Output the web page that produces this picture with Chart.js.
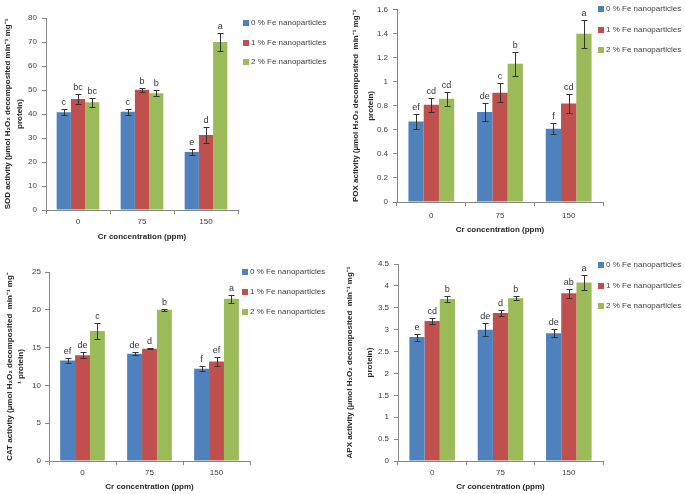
<!DOCTYPE html>
<html>
<head>
<meta charset="utf-8">
<script src="https://cdn.jsdelivr.net/npm/chart.js@4.4.0/dist/chart.umd.min.js"></script>
<style>
  html, body { margin: 0; padding: 0; background: #fff; }
  #wrap { position: relative; width: 685px; height: 494px; overflow: hidden; }
  canvas { position: absolute; }
</style>
</head>
<body>
<div id="wrap">
  <canvas id="sodChart" width="340" height="245" style="left:0;top:0"></canvas>
  <canvas id="poxChart" width="345" height="245" style="left:340px;top:0"></canvas>
  <canvas id="catChart" width="340" height="249" style="left:0;top:245px"></canvas>
  <canvas id="apxChart" width="345" height="249" style="left:340px;top:245px"></canvas>
</div>
<script>
const categories = ["0", "75", "150"];
const seriesNames = ["0 % Fe nanoparticles", "1 % Fe nanoparticles", "2 % Fe nanoparticles"];
const seriesColors = ["#4F81BD", "#C0504D", "#9BBB59"];
const xTitle = "Cr concentration (ppm)";

// SOD
const sodFe0 = [40.7, 40.9, 24.2];
const sodFe1 = [46.2, 50.1, 31.3];
const sodFe2 = [44.9, 48.6, 70.0];
const sodErr0 = [1.3, 1.2, 1.4];
const sodErr1 = [2.0, 0.8, 3.2];
const sodErr2 = [1.9, 1.2, 3.7];
const sodLet0 = ["c", "c", "e"];
const sodLet1 = ["bc", "b", "d"];
const sodLet2 = ["bc", "b", "a"];

// POX
const poxFe0 = [0.67, 0.75, 0.61];
const poxFe1 = [0.81, 0.91, 0.82];
const poxFe2 = [0.86, 1.15, 1.40];
const poxErr0 = [0.064, 0.073, 0.044];
const poxErr1 = [0.058, 0.078, 0.082];
const poxErr2 = [0.057, 0.097, 0.116];
const poxLet0 = ["ef", "de", "f"];
const poxLet1 = ["cd", "c", "cd"];
const poxLet2 = ["cd", "b", "a"];

// CAT
const catFe0 = [13.3, 14.2, 12.2];
const catFe1 = [14.0, 14.85, 13.15];
const catFe2 = [17.2, 20.0, 21.45];
const catErr0 = [0.33, 0.22, 0.35];
const catErr1 = [0.42, 0.05, 0.6];
const catErr2 = [1.0, 0.15, 0.55];
const catLet0 = ["ef", "de", "f"];
const catLet1 = ["de", "d", "ef"];
const catLet2 = ["c", "b", "a"];

// APX
const apxFe0 = [2.83, 3.0, 2.92];
const apxFe1 = [3.2, 3.38, 3.83];
const apxFe2 = [3.7, 3.72, 4.08];
const apxErr0 = [0.08, 0.145, 0.09];
const apxErr1 = [0.06, 0.065, 0.11];
const apxErr2 = [0.07, 0.04, 0.17];
const apxLet0 = ["e", "de", "de"];
const apxLet1 = ["cd", "d", "ab"];
const apxLet2 = ["b", "b", "a"];

const FONT = "'Liberation Sans', Arial, sans-serif";
Chart.defaults.font.family = FONT;

// error bars + significance letters
const barExtras = {
  id: "barExtras",
  afterDatasetsDraw(chart) {
    const ctx = chart.ctx;
    const yScale = chart.scales.y;
    ctx.save();
    chart.data.datasets.forEach((ds, di) => {
      const meta = chart.getDatasetMeta(di);
      meta.data.forEach((bar, i) => {
        const v = ds.data[i];
        const e = ds.errors[i];
        const yt = Math.round(yScale.getPixelForValue(v + e)) + 0.5;
        const yb = Math.round(yScale.getPixelForValue(v - e)) + 0.5;
        const x = Math.round(bar.x) + 0.5;
        ctx.strokeStyle = "#333";
        ctx.lineWidth = 1;
        ctx.beginPath();
        ctx.moveTo(x, yt); ctx.lineTo(x, yb);
        ctx.moveTo(x - 3, yt); ctx.lineTo(x + 3, yt);
        ctx.moveTo(x - 3, yb); ctx.lineTo(x + 3, yb);
        ctx.stroke();
        ctx.fillStyle = "#333";
        ctx.font = "9px " + FONT;
        ctx.textAlign = "center";
        ctx.textBaseline = "bottom";
        ctx.fillText(ds.letters[i], bar.x, yt - 2);
      });
    });
    ctx.restore();
  }
};

const sideLegend = {
  id: "sideLegend",
  afterDraw(chart, args, opts) {
    const ctx = chart.ctx;
    ctx.save();
    ctx.font = "8px " + FONT;
    ctx.textBaseline = "middle";
    ctx.textAlign = "left";
    chart.data.datasets.forEach((ds, i) => {
      const y = opts.y + i * opts.gap;
      ctx.fillStyle = ds.backgroundColor;
      ctx.fillRect(opts.x, Math.round(y - 3), 6, 6);
      ctx.fillStyle = "#404040";
      ctx.fillText(ds.label, opts.x + 8, y);
    });
    ctx.restore();
  }
};

function makeChart(id, values, errors, letters, yMax, yStep, yTitle, p) {
  const datasets = values.map((vals, s) => ({
    label: seriesNames[s],
    data: vals,
    errors: errors[s],
    letters: letters[s],
    backgroundColor: seriesColors[s],
    borderWidth: 0,
    categoryPercentage: 0.667,
    barPercentage: 1.0,
  }));
  return new Chart(document.getElementById(id), {
    type: "bar",
    data: { labels: categories, datasets: datasets },
    options: {
      responsive: false,
      animation: false,
      layout: { padding: { left: 0, top: p.padTop, right: p.padRight, bottom: 0 } },
      plugins: {
        legend: { display: false },
        tooltip: { enabled: false },
        sideLegend: { x: p.legX, y: p.legY, gap: p.legGap },
      },
      scales: {
        x: {
          grid: { offset: true, drawOnChartArea: false, tickLength: 4, color: "#868686" },
          border: { color: "#868686" },
          ticks: { color: "#404040", font: { size: 8 }, padding: p.xTickPad },
          title: {
            display: true, text: xTitle, color: "#262626",
            font: { size: 8, weight: "bold" },
            padding: { top: 0, bottom: p.xTitlePad },
          },
          afterFit: (s) => { s.height = p.xHeight; },
        },
        y: {
          min: 0,
          max: yMax,
          grid: { drawOnChartArea: false, tickLength: 4, color: "#868686" },
          border: { color: "#868686" },
          ticks: {
            stepSize: yStep, color: "#404040", font: { size: 8 }, padding: p.yTickPad,
            callback: (v) => String(Math.round(v * 100) / 100),
          },
          title: {
            display: true, text: yTitle, color: "#262626",
            font: { size: 8, weight: "bold", lineHeight: p.yTitleLH },
            padding: { top: p.yTitlePad, bottom: 0 },
          },
          afterFit: (s) => { s.width = p.yWidth; },
        },
      },
    },
    plugins: [barExtras, sideLegend],
  });
}

makeChart("sodChart", [sodFe0, sodFe1, sodFe2], [sodErr0, sodErr1, sodErr2], [sodLet0, sodLet1, sodLet2],
  80, 10, ["SOD activity (µmol H₂O₂ decomposited min⁻¹ mg⁻¹", "protein)"],
  { padTop: 18, padRight: 102, yWidth: 46, xHeight: 35, xTickPad: 3, xTitlePad: 3, yTickPad: 5,
    yTitleLH: 1.4, yTitlePad: 2.5, legX: 243, legY: 23, legGap: 19.5 });

makeChart("poxChart", [poxFe0, poxFe1, poxFe2], [poxErr0, poxErr1, poxErr2], [poxLet0, poxLet1, poxLet2],
  1.6, 0.2, ["POX activity (µmol H₂O₂ decomposited  min⁻¹ mg⁻¹", "protein)"],
  { padTop: 6, padRight: 82, yWidth: 57, xHeight: 43, xTickPad: 5, xTitlePad: 10, yTickPad: 5,
    yTitleLH: 1.8, yTitlePad: 9, legX: 258, legY: 9, legGap: 20.5 });

makeChart("catChart", [catFe0, catFe1, catFe2], [catErr0, catErr1, catErr2], [catLet0, catLet1, catLet2],
  25, 5, ["CAT activity (µmol H₂O₂ decomposited  min⁻¹ mg⁻", "¹ protein)"],
  { padTop: 27, padRight: 90, yWidth: 49, xHeight: 33, xTickPad: 3, xTitlePad: 2, yTickPad: 4,
    yTitleLH: 1.4, yTitlePad: 4, legX: 242, legY: 27, legGap: 20 });

makeChart("apxChart", [apxFe0, apxFe1, apxFe2], [apxErr0, apxErr1, apxErr2], [apxLet0, apxLet1, apxLet2],
  4.5, 0.5, ["APX activity (µmol H₂O₂ decomposited  min⁻¹ mg⁻¹", "protein)"],
  { padTop: 19, padRight: 82, yWidth: 58, xHeight: 33, xTickPad: 3, xTitlePad: 2, yTickPad: 5,
    yTitleLH: 2.5, yTitlePad: 0, legX: 258, legY: 20, legGap: 20.5 });
</script>
</body>
</html>
